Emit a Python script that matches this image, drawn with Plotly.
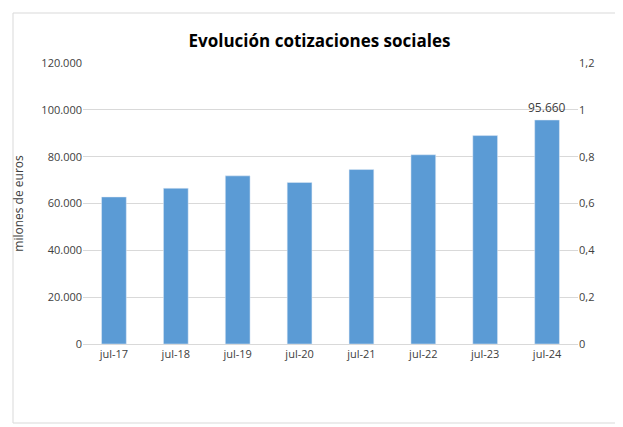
import plotly.graph_objects as go

categories = ["jul-17","jul-18","jul-19","jul-20","jul-21","jul-22","jul-23","jul-24"]
values = [62800, 66500, 71800, 69000, 74500, 80800, 89000, 95660]
left_ticks = [0,20000,40000,60000,80000,100000,120000]
left_labels = ["0","20.000","40.000","60.000","80.000","100.000","120.000"]
right_ticks = [0,0.2,0.4,0.6,0.8,1.0,1.2]
right_labels = ["0","0,2","0,4","0,6","0,8","1","1,2"]

fig = go.Figure()
fig.add_trace(go.Bar(x=categories, y=values, marker_color="#5B9BD5", width=0.4))
fig.add_trace(go.Scatter(x=categories, y=[None]*8, yaxis="y2", showlegend=False))
fig.add_annotation(x=categories[-1], y=values[-1], text="95.660", showarrow=False,
                   yanchor="bottom", yshift=2, font=dict(size=12, color="#404040"))
fig.update_layout(
    width=623, height=427, showlegend=False,
    paper_bgcolor="white", plot_bgcolor="white",
    font=dict(family="Open Sans, Liberation Sans, sans-serif", size=11, color="#404040"),
    title=dict(text="<b>Evolución cotizaciones sociales</b>", x=0.5, xanchor="center",
               y=1-33/427, yanchor="middle", font=dict(size=17, color="black")),
    margin=dict(l=75, r=53, t=55, b=91, autoexpand=False),
    xaxis=dict(showline=True, linecolor="#D9D9D9", ticks="", tickfont=dict(size=11)),
    yaxis=dict(range=[0,120000], tickvals=left_ticks, ticktext=left_labels,
               gridcolor="#D9D9D9", zeroline=False, title=dict(text="milones de euros", font=dict(size=12))),
    yaxis2=dict(range=[0,1.2], tickvals=right_ticks, ticktext=right_labels, overlaying="y",
                side="right", showgrid=False, zeroline=False),
    shapes=[dict(type="rect", xref="paper", yref="paper",
                 x0=(5-75)/495, x1=(615-75)/495, y0=(336-415)/281, y1=(336-5)/281,
                 line=dict(color="#D9D9D9", width=1))],
)
fig.write_html("out.html")
